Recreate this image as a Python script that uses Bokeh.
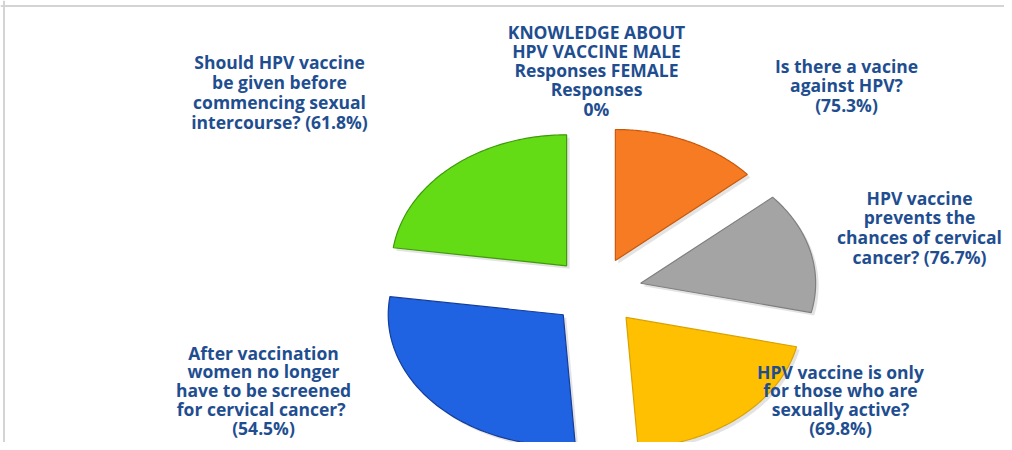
import numpy as np
from bokeh.plotting import figure
from bokeh.models import Range1d, Span
from bokeh.core.properties import value
from bokeh.embed import file_html
from bokeh.resources import INLINE

# ---------------- data ----------------
categories = [
    "Is there a vacine against HPV?",
    "HPV vaccine prevents the chances of cervical cancer?",
    "HPV vaccine is only for those who are sexually active?",
    "After vaccination women no longer have to be screened for cervical cancer?",
    "Should HPV vaccine be given before commencing sexual intercourse?",
    "KNOWLEDGE ABOUT HPV VACCINE MALE Responses FEMALE Responses",
]
percent_yes = ["75.3", "76.7", "69.8", "54.5", "61.8", "0"]
# share of the pie occupied by each slice (%)
slice_share = [13.6, 15.0, 20.3, 28.3, 22.8, 0.0]

label_templates = [
    ["Is there a vacine", "against HPV?", "({}%)"],
    ["HPV vaccine", "prevents the", "chances of cervical", "cancer? ({}%)"],
    ["HPV vaccine is only", "for those who are", "sexually active?", "({}%)"],
    ["After vaccination", "women no longer", "have to be screened",
     "for  cervical cancer?", "({}%)"],
    ["Should HPV vaccine", "be given before", "commencing sexual",
     "intercourse? ({}%)"],
    ["KNOWLEDGE ABOUT", "HPV VACCINE MALE", "Responses FEMALE", "Responses", "{}%"],
]

# ---------------- styles / layout ----------------
fill_colors = ["#F67B22", "#A4A4A4", "#FEC000", "#1F62E2", "#63DC16", "#FFFFFF"]
edge_colors = ["#C8590C", "#7F7F7F", "#D9A200", "#143E99", "#3F9A0A", "#FFFFFF"]
TEXT_COLOR = "#1F4E90"
FONT = "Open Sans"

W, H = 1004, 442
CX, CY = 596, 291          # pie centre in canvas pixels
RX, RY = 175.0, 131.0      # pixel size of one data unit on x / y (tilted pie)
EXPLODE = 0.26

def to_data(px, py):
    # canvas pixel position -> data coordinates
    return (px - CX) / RX, (CY - py) / RY

# first-line centre of every label (canvas pixels) and line spacing
label_anchor_px = [(846, 65), (919, 197), (840, 371), (263, 352), (279, 61), (596, 31)]
label_step_px = [19.8, 19.8, 18.8, 18.8, 20.0, 19.3]

p = figure(width=W, height=H, output_backend="svg", toolbar_location=None,
           x_range=Range1d(-CX / RX, (W - CX) / RX),
           y_range=Range1d(-(H - CY) / RY, CY / RY),
           min_border=0)
p.axis.visible = False
p.grid.visible = False
p.outline_line_color = None
p.background_fill_color = "white"
p.border_fill_color = "white"

# ---------------- slices ----------------
xs, ys, sx, sy, fc, lc = [], [], [], [], [], []
start = 90.0
for share, f, e in zip(slice_share, fill_colors, edge_colors):
    sweep = share * 3.6
    if sweep <= 0:
        continue
    end = start - sweep
    mid = np.radians((start + end) / 2)
    ox, oy = EXPLODE * np.cos(mid), EXPLODE * np.sin(mid)
    t = np.radians(np.linspace(start, end, 80))
    px_ = np.concatenate([[ox], ox + np.cos(t)])
    py_ = np.concatenate([[oy], oy + np.sin(t)])
    xs.append(list(px_)); ys.append(list(py_))
    sx.append(list(px_ + 3 / RX)); sy.append(list(py_ - 3 / RY))
    fc.append(f); lc.append(e)
    start = end

p.patches(xs=sx, ys=sy, fill_color="#808080", fill_alpha=0.22, line_color=None)
p.patches(xs=xs, ys=ys, fill_color=fc, line_color=lc, line_width=1.2)

# ---------------- labels ----------------
tx, ty, tt = [], [], []
for tmpl, pct, (ax, ay), step in zip(label_templates, percent_yes,
                                     label_anchor_px, label_step_px):
    for i, line in enumerate(tmpl):
        x, y = to_data(ax, ay + i * step)
        tx.append(x); ty.append(y); tt.append(line.format(pct))
p.text(x=tx, y=ty, text=tt, text_align="center", text_baseline="middle",
       text_font=value(FONT), text_font_style="bold", text_font_size="17.5px",
       text_color=TEXT_COLOR)

# ---------------- chart frame (left / top edges) ----------------
p.add_layout(Span(location=to_data(3.5, 0)[0], dimension="height",
                  line_color="#D4D4D4", line_width=2))
p.add_layout(Span(location=to_data(0, 5.5)[1], dimension="width",
                  line_color="#D4D4D4", line_width=2))

open("out.html", "w").write(file_html(p, INLINE))
